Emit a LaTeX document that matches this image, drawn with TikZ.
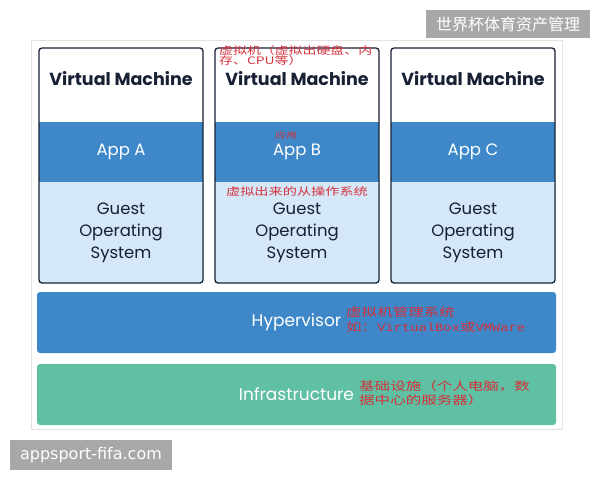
\documentclass[tikz,border=0pt]{standalone}
\usepackage{fontspec}
\setmainfont{Poppins}
\newfontfamily\cnfont{Noto Sans CJK SC}
\newfontfamily\notefont{Noto Sans CJK SC}[FakeStretch=1.35]
\newfontfamily\notemono{Liberation Mono}[FakeStretch=1.2]
\newfontfamily\urlfont{DejaVu Sans}
\usepackage{tikz}
\usetikzlibrary{positioning}
\definecolor{navy}{RGB}{24,32,54}
\definecolor{appblue}{RGB}{62,136,201}
\definecolor{oslight}{RGB}{212,232,247}
\definecolor{infragreen}{RGB}{96,192,163}
\definecolor{notered}{RGB}{212,48,58}
\definecolor{markgray}{RGB}{168,168,168}
\definecolor{framegray}{RGB}{226,226,226}
\tikzset{
x=1pt, y=-1pt,
box/.style={rectangle,anchor=north west,inner sep=0pt,outer sep=0pt},
vmfill/.style={box,fill=white,rounded corners=3pt,minimum width=164pt,minimum height=235pt},
vmedge/.style={box,draw=navy,line width=1.3pt,rounded corners=3pt,minimum width=164pt,minimum height=235pt},
vmtitle/.style={text=navy,font=\fontsize{17.5}{20}\selectfont\bfseries},
appband/.style={box,fill=appblue,text=white,minimum width=164pt,minimum height=60pt,font=\fontsize{16.5}{20}\selectfont},
osband/.style={box,fill=oslight,text=navy,rounded corners=3pt,align=center,minimum width=164pt,minimum height=101pt,font=\fontsize{16.5}{22}\selectfont},
layer/.style={box,rounded corners=3pt,text=white,minimum width=519pt,minimum height=61pt,font=\fontsize{17}{20}\selectfont},
note/.style={text=notered,align=left,inner sep=0pt,font=\notefont\fontsize{10.5}{13}\selectfont},
markbox/.style={box,fill=markgray,text=white}
}
\begin{document}
\begin{tikzpicture}
\fill[white] (0,0) rectangle (600,480);
\useasboundingbox (0,0) rectangle (600,480);
\node[box,draw=framegray,minimum width=531pt,minimum height=389pt] (board) at (31,40) {};

% the three virtual machines
\foreach \c/\x in {A/39,B/215,C/391}{
  \node[vmfill] (vm\c) at (\x,48) {};
  \node[osband] (os\c) at (\x,182) {Guest\\Operating\\System};
  \node[appband] (app\c) at (\x,122) {App \c};
  \node[vmedge] (edge\c) at (vm\c.north west) {};
  \node[vmtitle] (title\c) at ({\x+82},79) {Virtual Machine};
}

\node[layer,fill=appblue] (hyper) at (37,292) {Hypervisor};
\node[layer,fill=infragreen] (infra) at (37,364) {Infrastructure};

% red notes
\node[note,anchor=north west,font=\notefont\fontsize{10.3}{10}\selectfont] (vmnote) at (219,45) {虚拟机（虚拟出硬盘、内\\存、CPU等）};
\node[note,font=\notefont\fontsize{8}{8}\selectfont] (appnote) at (286,135) {应用};
\node[note] (osnote) at (297,191) {虚拟出来的从操作系统};
\node[note,anchor=west,font=\notefont\fontsize{11.5}{15}\selectfont] (hypernote) at (346,320) {虚拟机管理系统\\如：{\notemono VirtualBox}或{\notemono VMWare}};
\node[note,anchor=west,font=\notefont\fontsize{11.5}{14}\selectfont] (infranote) at (359,393) {基础设施（个人电脑，数\\据中心的服务器）};

% watermarks
\node[markbox,minimum width=164pt,minimum height=28pt,font=\cnfont\fontsize{16}{18}\selectfont] (markcn) at (426,10) {世界杯体育资产管理};
\node[markbox,minimum width=162pt,minimum height=30pt,font=\urlfont\fontsize{16}{18}\selectfont] (markurl) at (10,440) {appsport-fifa.com};
\end{tikzpicture}
\end{document}
